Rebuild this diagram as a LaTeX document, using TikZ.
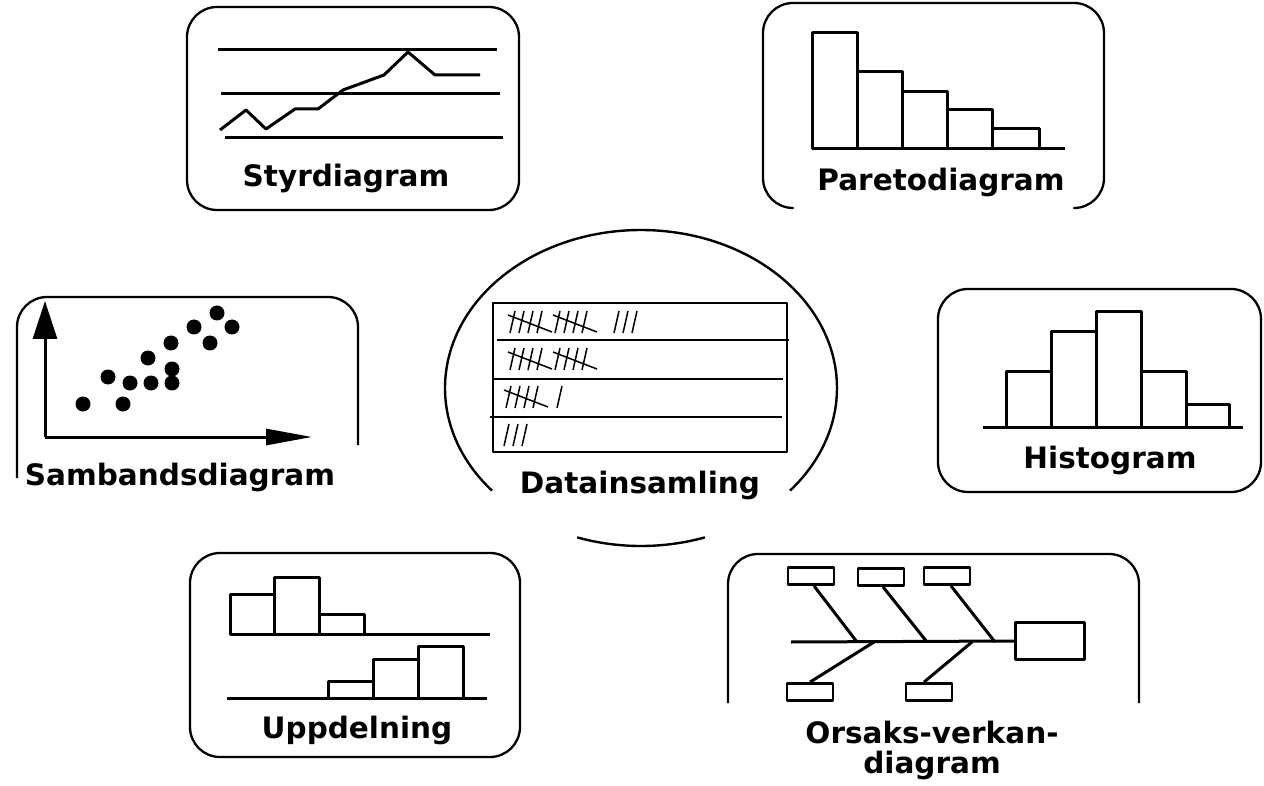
\documentclass[tikz,border=0pt]{standalone}
\usepackage{fontspec}
\setmainfont{DejaVu Sans}
\usetikzlibrary{arrows.meta}

% tally marks: a bundle of five and a single stroke
\newcommand{\tallyfive}[2]{%
  \foreach \k in {0,...,3}{\draw[tally] ({#1+\k*9},{#2+11}) -- ({#1+\k*9+5},{#2-11});}
  \draw[tally] ({#1-2},{#2-7}) -- ({#1+42},{#2+10});}
\newcommand{\tallyone}[2]{\draw[tally] ({#1},{#2+11}) -- ({#1+5},{#2-11});}

\begin{document}
\begin{tikzpicture}[x=1pt,y=1pt,yscale=-1,line join=round,
    frame/.style={line width=2.3pt, rounded corners=30pt},
    chart/.style={line width=3pt},
    tally/.style={line width=1.5pt},
    title/.style={font=\bfseries\fontsize{29.5}{34}\selectfont, anchor=base},
    causebox/.style={draw, line width=2.8pt, inner sep=0pt, minimum width=46pt, minimum height=17pt}]
  \useasboundingbox (0,0) rectangle (1264,786);

  % Styrdiagram
  \draw[frame] (187,7) rectangle (519,210);
  \draw[chart] (218,50) -- (497,50);
  \draw[chart] (221,94) -- (500,94);
  \draw[chart] (225,138) -- (503,138);
  \draw[chart] (220,130) -- (246,110) -- (266,129) -- (295,109) -- (318,109) -- (343,90)
    -- (384,75) -- (408,52) -- (435,75) -- (480,75);
  \node[title] (styr) at (346,187) {Styrdiagram};

  % Paretodiagram
  \draw[frame] (792,208) -| (763,3) -| (1104,208) -- (1075,208);
  \foreach \a/\b/\h in {812/857/33, 857/902/72, 902/947/92, 947/992/110, 992/1039/129}
    \draw[chart] (\a,149) rectangle (\b,\h);
  \draw[chart] (812,149) -- (1065,149);
  \node[title] (pareto) at (941,191) {Paretodiagram};

  % Sambandsdiagram
  \draw[frame] (17,478) |- (358,297) -- (358,445);
  \draw[line width=3pt, -{Triangle[length=38pt,width=24pt]}] (45,437) -- (45,301);
  \draw[line width=3pt, -{Triangle[length=46pt,width=16pt]}] (45,437) -- (312,437);
  \foreach \p in {(83,404),(123,404),(108,377),(130,383),(151,383),(172,383),(172,369),
      (148,358),(171,343),(194,327),(210,343),(217,313),(232,327)}
    \fill \p circle[radius=7.5pt];
  \node[title] (samband) at (180,485) {Sambandsdiagram};

  % Datainsamling
  \draw[line width=2.4pt] (641,388) ++(139.5:196 and 158)
    arc[start angle=139.5, end angle=400.5, x radius=196, y radius=158];
  \draw[line width=2.4pt] (641,388) ++(71:196 and 158)
    arc[start angle=71, end angle=109, x radius=196, y radius=158];
  \draw[line width=2.6pt] (493,303) rectangle (787,452);
  \draw[line width=2.6pt] (497,340) -- (789,340);
  \draw[line width=2.6pt] (492,379) -- (783,379);
  \draw[line width=2.6pt] (490,417) -- (782,417);
  \tallyfive{510}{322} \tallyfive{555}{322}
  \tallyone{614}{322} \tallyone{623}{322} \tallyone{632}{322}
  \tallyfive{510}{359} \tallyfive{555}{359}
  \tallyfive{506}{397} \tallyone{557}{397}
  \tallyone{504}{435} \tallyone{513}{435} \tallyone{522}{435}
  \node[title] (data) at (640,493) {Datainsamling};

  % Histogram
  \draw[frame] (938,289) rectangle (1261,492);
  \foreach \a/\b/\h in {1006/1051/371, 1051/1096/332, 1096/1141/312, 1141/1186/371, 1186/1229/404}
    \draw[chart] (\a,427) rectangle (\b,\h);
  \draw[chart] (983,427) -- (1243,427);
  \node[title] (histo) at (1110,468) {Histogram};

  % Uppdelning
  \draw[frame] (190,553) rectangle (520,757);
  \foreach \a/\b/\h in {230/274/594, 274/319/577, 319/364/614}
    \draw[chart] (\a,634) rectangle (\b,\h);
  \draw[chart] (230,634) -- (490,634);
  \foreach \a/\b/\h in {328/373/681, 373/418/659, 418/463/646}
    \draw[chart] (\a,698) rectangle (\b,\h);
  \draw[chart] (227,698) -- (487,698);
  \node[title] (uppdel) at (357,738) {Uppdelning};

  % Orsaks-verkan-diagram
  \draw[frame] (728,703) |- (1139,554) -- (1139,703);
  \node[causebox] (cause1) at (811,576) {};
  \node[causebox] (cause2) at (881,577) {};
  \node[causebox] (cause3) at (947,576) {};
  \node[causebox] (cause4) at (810,692) {};
  \node[causebox] (cause5) at (929,692) {};
  \node[causebox, minimum width=69pt, minimum height=37pt] (effect) at (1050,641) {};
  \coordinate (spine) at (791,642);
  \draw[chart] (spine) -- (effect.west);
  \draw[chart] ([xshift=3pt]cause1.south) -- (857,642);
  \draw[chart] ([xshift=2pt]cause2.south) -- (927,642);
  \draw[chart] ([xshift=4pt]cause3.south) -- (995,642);
  \draw[chart] (874,642) -- (cause4.north);
  \draw[chart] (972,642) -- ([xshift=-5pt]cause5.north);
  \node[title] (orsak) at (932,743) {Orsaks-verkan-};
  \node[title] (orsakdiag) at (932,773) {diagram};
\end{tikzpicture}
\end{document}
